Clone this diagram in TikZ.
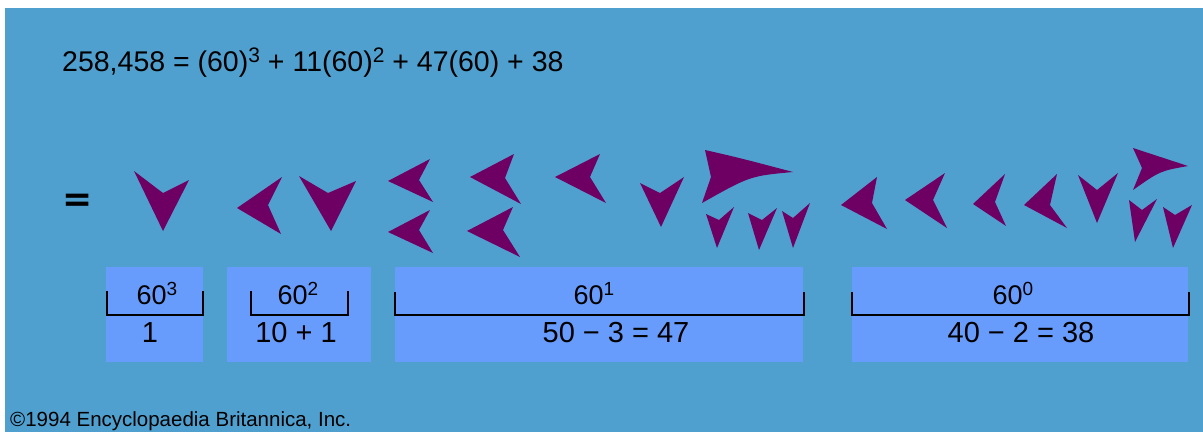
\documentclass[tikz,border=0pt]{standalone}
\usepackage{fontspec}
\setmainfont{Liberation Sans}
\newfontfamily\eqfont{DejaVu Sans}
\definecolor{bgblue}{RGB}{80,160,207}
\definecolor{boxblue}{RGB}{104,156,252}
\definecolor{cunpurple}{RGB}{110,0,100}
\newcommand{\cunmark}[4]{\fill[cuneiform] #1 -- #2 -- #3 -- #4 -- cycle;}
\tikzset{
  cuneiform/.style={fill=cunpurple},
  placebox/.style={fill=boxblue},
  bracketline/.style={draw=black, line width=1.6pt},
  powlabel/.style={font=\fontsize{27}{29}\selectfont, anchor=base, inner sep=0pt},
  vallabel/.style={font=\fontsize{29}{31}\selectfont, anchor=base, inner sep=0pt}
}
\begin{document}
\begin{tikzpicture}[x=1pt,y=-1pt]
\useasboundingbox (0,0) rectangle (1203,432);
\fill[white] (0,0) rectangle (1203,432);
\fill[bgblue] (5,8) rectangle (1203,432);

% equation
\node[anchor=base west, inner sep=0pt, font=\fontsize{28.5}{30}\selectfont] (eq) at (62,71)
  {258,458 = (60)\raisebox{9pt}{\fontsize{21}{22}\selectfont 3} + 11(60)\raisebox{9pt}{\fontsize{21}{22}\selectfont 2} + 47(60) + 38};

\node[anchor=center, inner sep=0pt, font=\eqfont\bfseries\fontsize{36}{38}\selectfont] (eqsign) at (78,203) {=};

% cuneiform signs
\cunmark{(134,171)}{(163,193)}{(189,180)}{(163,231)}
\cunmark{(282,177)}{(268,205)}{(281,234)}{(237,208)}
\cunmark{(299,176)}{(328,193)}{(356,181)}{(331,231)}
\cunmark{(430,159)}{(419,180)}{(433,202)}{(388,181)}
\cunmark{(430,210)}{(419,230)}{(433,253)}{(388,232)}
\cunmark{(514,154)}{(505,178)}{(521,204)}{(470,177)}
\cunmark{(513,207)}{(503,230)}{(520,257)}{(467,231)}
\cunmark{(600,154)}{(590,177)}{(606,203)}{(555,177)}
\cunmark{(640,183)}{(660,193)}{(684,177)}{(661,227)}
\fill[cuneiform] (705,150) .. controls (740,158) .. (793,172) .. controls (750,176) .. (702,203) -- (711,177) -- cycle;
\cunmark{(706,214)}{(719,220)}{(734,207)}{(717,248)}
\cunmark{(748,213)}{(762,220)}{(777,208)}{(759,250)}
\cunmark{(782,211)}{(793,218)}{(810,203)}{(793,248)}
\cunmark{(877,177)}{(872,203)}{(887,229)}{(841,205)}
\cunmark{(945,173)}{(933,200)}{(947,228)}{(905,200)}
\cunmark{(1005,174)}{(995,202)}{(1006,226)}{(973,204)}
\cunmark{(1057,174)}{(1050,205)}{(1067,228)}{(1024,205)}
\cunmark{(1078,175)}{(1097,190)}{(1118,173)}{(1097,223)}
\fill[cuneiform] (1133,148) .. controls (1160,157) .. (1188,166) .. controls (1160,171) .. (1133,190) -- (1142,168) -- cycle;
\cunmark{(1129,200)}{(1142,210)}{(1157,199)}{(1135,242)}
\cunmark{(1163,207)}{(1175,215)}{(1192,205)}{(1173,248)}

% place-value boxes
\fill[placebox] (106,267) rectangle (203,362);
\fill[placebox] (227,267) rectangle (371,362);
\fill[placebox] (395,267) rectangle (803,362);
\fill[placebox] (852,267) rectangle (1188,362);

\draw[bracketline] (107,291) -- (107,315) -- (203,315) -- (203,291);
\draw[bracketline] (251,291) -- (251,315) -- (348,315) -- (348,291);
\draw[bracketline] (395,292) -- (395,315) -- (804,315) -- (804,292);
\draw[bracketline] (852,292) -- (852,315) -- (1189,315) -- (1189,292);

\node[powlabel] (p3) at (157,304) {60\raisebox{9pt}{\fontsize{19}{20}\selectfont 3}};
\node[powlabel] (p2) at (298,304) {60\raisebox{9pt}{\fontsize{19}{20}\selectfont 2}};
\node[powlabel] (p1) at (594,304) {60\raisebox{9pt}{\fontsize{19}{20}\selectfont 1}};
\node[powlabel] (p0) at (1013,304) {60\raisebox{9pt}{\fontsize{19}{20}\selectfont 0}};

\node[vallabel] (v3) at (150,342) {1};
\node[vallabel] (v2) at (296,342) {10 + 1};
\node[vallabel] (v1) at (616,342) {50 − 3 = 47};
\node[vallabel] (v0) at (1021,342) {40 − 2 = 38};

% copyright
\node[anchor=base west, inner sep=0pt, font=\fontsize{20.5}{22}\selectfont] (copy) at (10,426) {©1994 Encyclopaedia Britannica, Inc.};
\end{tikzpicture}
\end{document}
